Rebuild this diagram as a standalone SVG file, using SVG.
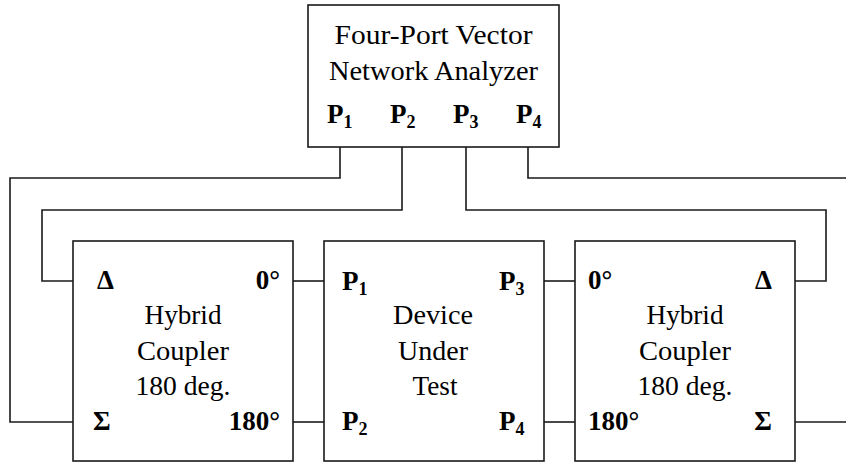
<svg xmlns="http://www.w3.org/2000/svg" width="846" height="463" viewBox="0 0 846 463">
<style>
.box{fill:#fff;stroke:#1a1a1a;stroke-width:1.6}
.wire{fill:none;stroke:#1a1a1a;stroke-width:1.6}
.t{font-family:"Liberation Serif","Times New Roman",serif;font-size:27px;fill:#000;text-anchor:middle}
.b{font-family:"Liberation Serif","Times New Roman",serif;font-size:27px;font-weight:bold;fill:#000}
.s{font-size:18px}
</style>
<rect width="846" height="463" fill="#fff"/>
<g id="connectors">
<polyline class="wire" points="340,147 340,178 10,178 10,422 73,422"/>
<polyline class="wire" points="402,147 402,210 42,210 42,281 73,281"/>
<polyline class="wire" points="466,147 466,210 826,210 826,281 795,281"/>
<polyline class="wire" points="528,147 528,178 846,178"/>
<line class="wire" x1="795" y1="422" x2="846" y2="422"/>
<line class="wire" x1="293" y1="281" x2="324" y2="281"/>
<line class="wire" x1="293" y1="422" x2="324" y2="422"/>
<line class="wire" x1="544" y1="281" x2="575" y2="281"/>
<line class="wire" x1="544" y1="422" x2="575" y2="422"/>
</g>
<g id="vna">
<rect class="box" x="308" y="5" width="251" height="142"/>
<text class="t" x="433.5" y="44" textLength="198" lengthAdjust="spacingAndGlyphs">Four-Port Vector</text>
<text class="t" x="433.5" y="79.5" textLength="209" lengthAdjust="spacingAndGlyphs">Network Analyzer</text>
<text class="b" x="327" y="123">P<tspan class="s" dy="5">1</tspan></text>
<text class="b" x="390" y="123">P<tspan class="s" dy="5">2</tspan></text>
<text class="b" x="453" y="123">P<tspan class="s" dy="5">3</tspan></text>
<text class="b" x="516" y="123">P<tspan class="s" dy="5">4</tspan></text>
</g>
<g id="coupler-left">
<rect class="box" x="73" y="241" width="220" height="220"/>
<text class="b" x="97" y="289">Δ</text>
<text class="b" x="280" y="289" text-anchor="end">0°</text>
<text class="t" x="183" y="324" textLength="77" lengthAdjust="spacingAndGlyphs">Hybrid</text>
<text class="t" x="183" y="360" textLength="92" lengthAdjust="spacingAndGlyphs">Coupler</text>
<text class="t" x="183" y="395" textLength="95" lengthAdjust="spacingAndGlyphs">180 deg.</text>
<text class="b" x="93" y="430">Σ</text>
<text class="b" x="280" y="430" text-anchor="end">180°</text>
</g>
<g id="dut">
<rect class="box" x="324" y="241" width="220" height="220"/>
<text class="b" x="342" y="290">P<tspan class="s" dy="5">1</tspan></text>
<text class="b" x="499" y="290">P<tspan class="s" dy="5">3</tspan></text>
<text class="t" x="433" y="324" textLength="80" lengthAdjust="spacingAndGlyphs">Device</text>
<text class="t" x="433" y="360" textLength="70" lengthAdjust="spacingAndGlyphs">Under</text>
<text class="t" x="435" y="395" textLength="45" lengthAdjust="spacingAndGlyphs">Test</text>
<text class="b" x="342" y="430">P<tspan class="s" dy="5">2</tspan></text>
<text class="b" x="499" y="430">P<tspan class="s" dy="5">4</tspan></text>
</g>
<g id="coupler-right">
<rect class="box" x="575" y="241" width="220" height="220"/>
<text class="b" x="588" y="289">0°</text>
<text class="b" x="772" y="289" text-anchor="end">Δ</text>
<text class="t" x="685" y="324" textLength="77" lengthAdjust="spacingAndGlyphs">Hybrid</text>
<text class="t" x="685" y="360" textLength="92" lengthAdjust="spacingAndGlyphs">Coupler</text>
<text class="t" x="685" y="395" textLength="95" lengthAdjust="spacingAndGlyphs">180 deg.</text>
<text class="b" x="588" y="430">180°</text>
<text class="b" x="772" y="430" text-anchor="end">Σ</text>
</g>
</svg>
